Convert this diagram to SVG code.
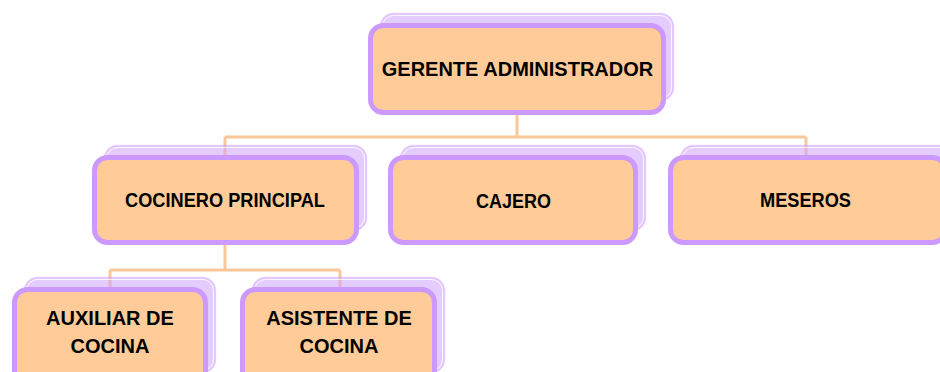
<svg xmlns="http://www.w3.org/2000/svg" width="940" height="372" viewBox="0 0 940 372">
<style>
.sh{fill:#CC99FF;fill-opacity:0.5;stroke:#CC99FF;stroke-opacity:0.35;stroke-width:1.5}
.shi{fill:none;stroke:#FFFFFF;stroke-width:1;stroke-opacity:0.85}
.bx{fill:#FFCC99;stroke:#CC99FF;stroke-width:5}
.t{font-family:"Liberation Sans",Arial,sans-serif;font-weight:bold;font-size:20px;fill:#000;text-anchor:middle}
.c{fill:none;stroke:#FAC898;stroke-width:3}
</style>
<rect width="940" height="372" fill="#FFFFFF"/>
<g id="connectors">
<path class="c" d="M517 115 V137 M225 137 H806 M225 137 V157 M806 137 V157"/>
<path class="c" d="M225 245 V270 M110 270 H340 M110 270 V289 M340 270 V289"/>
</g>
<g id="gerente">
<rect class="sh" x="380.5" y="13.5" width="293" height="87" rx="13"/>
<rect class="shi" x="382.5" y="15.5" width="289" height="83" rx="11"/>
<rect class="bx" x="370.5" y="25.5" width="293" height="87" rx="13"/>
<text class="t" x="517.5" y="76">GERENTE ADMINISTRADOR</text>
</g>
<g id="cocinero">
<rect class="sh" x="104.5" y="145.5" width="262" height="85" rx="13"/>
<rect class="shi" x="106.5" y="147.5" width="258" height="81" rx="11"/>
<rect class="bx" x="94.5" y="157.5" width="262" height="85" rx="13"/>
<text class="t" x="225" y="207" textLength="200" lengthAdjust="spacingAndGlyphs">COCINERO PRINCIPAL</text>
</g>
<g id="cajero">
<rect class="sh" x="400.5" y="145.5" width="245" height="85" rx="13"/>
<rect class="shi" x="402.5" y="147.5" width="241" height="81" rx="11"/>
<rect class="bx" x="390.5" y="157.5" width="245" height="85" rx="13"/>
<text class="t" x="513.5" y="208" textLength="75" lengthAdjust="spacingAndGlyphs">CAJERO</text>
</g>
<g id="meseros">
<rect class="sh" x="680.5" y="145.5" width="275" height="85" rx="13"/>
<rect class="shi" x="682.5" y="147.5" width="271" height="81" rx="11"/>
<rect class="bx" x="670.5" y="157.5" width="275" height="85" rx="13"/>
<text class="t" x="805.5" y="207" textLength="91" lengthAdjust="spacingAndGlyphs">MESEROS</text>
</g>
<g id="auxiliar">
<rect class="sh" x="24.5" y="277.5" width="191" height="95" rx="13"/>
<rect class="shi" x="26.5" y="279.5" width="187" height="91" rx="11"/>
<rect class="bx" x="14.5" y="289.5" width="191" height="95" rx="13"/>
<text class="t" x="110" y="325">AUXILIAR DE</text>
<text class="t" x="110" y="353">COCINA</text>
</g>
<g id="asistente">
<rect class="sh" x="252.5" y="277.5" width="192" height="95" rx="13"/>
<rect class="shi" x="254.5" y="279.5" width="188" height="91" rx="11"/>
<rect class="bx" x="242.5" y="289.5" width="192" height="95" rx="13"/>
<text class="t" x="339" y="325">ASISTENTE DE</text>
<text class="t" x="339" y="353">COCINA</text>
</g>
</svg>
